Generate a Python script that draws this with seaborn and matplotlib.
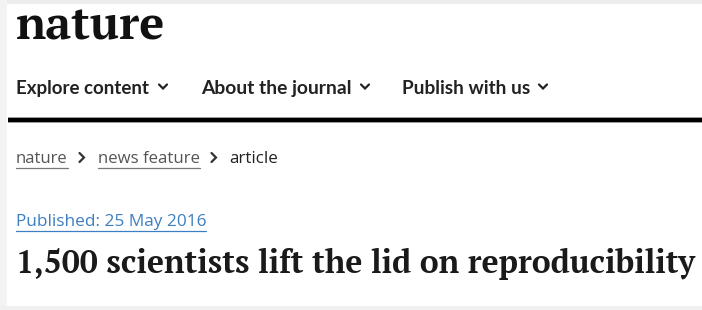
import matplotlib
matplotlib.use("Agg")
import matplotlib.pyplot as plt
import seaborn as sns

sns.set_theme(style="white")

# ---- content ----
logo = "nature"
nav_items = ["Explore content", "About the journal", "Publish with us"]
crumbs = ["nature", "news feature", "article"]
published = "Published: 25 May 2016"
title = "1,500 scientists lift the lid on reproducibility"

W, H = 702, 310
fig = plt.figure(figsize=(W / 100, H / 100), dpi=100)
fig.patch.set_facecolor("white")
ax = fig.add_axes([0, 0, 1, 1])
ax.set_xlim(0, W)
ax.set_ylim(H, 0)
ax.axis("off")
fig.canvas.draw()
renderer = fig.canvas.get_renderer()


def width_px(t):
    return t.get_window_extent(renderer=renderer).width


def fit_text(x, y, s, target_w, size, **kw):
    t = ax.text(x, y, s, fontsize=size, va="baseline", ha="left", **kw)
    w = width_px(t)
    t.set_fontsize(size * target_w / w)
    return t


# page frame
ax.axhspan(0, 4, color="#ececec", lw=0)
ax.axvspan(0, 7, color="#f3f3f3", lw=0)
ax.axhspan(306, 310, color="#f0f0f0", lw=0)

# logo
fit_text(16, 40, logo, 149, 36, family="PT Serif", weight="bold", color="#111111")

# nav
nav_x = [16, 201, 402]
nav_w = [134, 151, 128]
for x, s, w in zip(nav_x, nav_items, nav_w):
    fit_text(x, 94, s, w, 12.5, family="Lato", weight="bold", color="#222222")
    cx = x + w + 13
    ax.plot([cx - 4, cx, cx + 4], [84.5, 88.5, 84.5], color="#222222", lw=1.6,
            solid_capstyle="round", solid_joinstyle="miter")

# black rule
ax.fill_between([8, W], 116.5, 122.5, color="#9a9a9a", lw=0)
ax.fill_between([8, W], 117.5, 121.5, color="#000000", lw=0)

# breadcrumbs
crumb_x = [16, 98, 229]
crumb_w = [52, 102, 49]
crumb_col = ["#555555", "#555555", "#222222"]
for i, (x, s, w, c) in enumerate(zip(crumb_x, crumbs, crumb_w, crumb_col)):
    fit_text(x, 163, s, w, 11, family="Open Sans", color=c)
    if i < 2:
        ax.plot([x, x + w], [167.5, 167.5], color="#777777", lw=0.9)
        gx = x + w + 14
        ax.plot([gx - 2.5, gx + 2, gx - 2.5], [153, 157.5, 162], color="#333333", lw=1.6,
                solid_joinstyle="miter")

# published
fit_text(16, 226, published, 190, 11, family="Open Sans", color="#3d7fc1")
ax.plot([16, 206], [230.5, 230.5], color="#3d7fc1", lw=0.9)

# title
fit_text(16, 273, title, 679, 24, family="PT Serif", weight="bold", color="#1a1a1a")

fig.savefig("out.png", dpi=100, facecolor="white")
